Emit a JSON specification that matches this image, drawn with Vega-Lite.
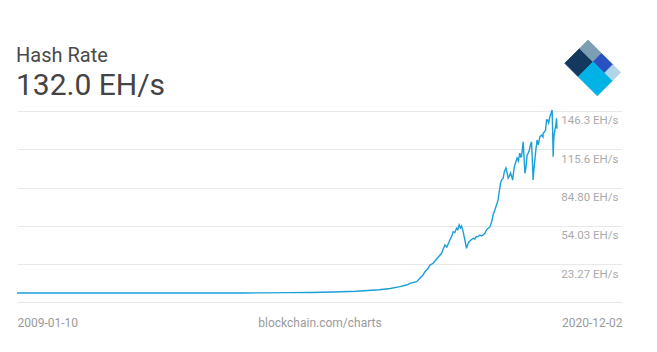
{
  "$schema": "https://vega.github.io/schema/vega-lite/v6.json",
  "width": 605,
  "height": 267,
  "autosize": {"type": "none"},
  "padding": {"left": 17, "top": 35, "right": 35, "bottom": 50},
  "background": "white",
  "config": {"view": {"stroke": null}, "font": "Roboto"},
  "title": {
    "text": "Hash Rate",
    "subtitle": "132.0 EH/s",
    "anchor": "start",
    "frame": "group",
    "font": "Roboto",
    "fontSize": 20,
    "fontWeight": "normal",
    "color": "#4a4a4a",
    "subtitleFont": "Roboto",
    "subtitleFontSize": 30,
    "subtitleColor": "#444444",
    "subtitlePadding": 5,
    "offset": -66,
    "dx": -1
  },
  "layer": [
    {
      "data": {
        "values": [
          {"date": "2009-01-10", "value": 0},
          {"date": "2010-01-01", "value": 0},
          {"date": "2011-01-01", "value": 0.0001},
          {"date": "2012-01-01", "value": 0.00001},
          {"date": "2013-01-01", "value": 0.00002},
          {"date": "2013-07-01", "value": 0.0003},
          {"date": "2014-01-01", "value": 0.01},
          {"date": "2014-07-01", "value": 0.12},
          {"date": "2015-01-01", "value": 0.3},
          {"date": "2015-07-01", "value": 0.4},
          {"date": "2016-01-01", "value": 0.8},
          {"date": "2016-07-01", "value": 1.4},
          {"date": "2017-01-01", "value": 2.6},
          {"date": "2017-04-01", "value": 3.6},
          {"date": "2017-06-17", "value": 5.1},
          {"date": "2017-08-10", "value": 6.4},
          {"date": "2017-09-06", "value": 7.8},
          {"date": "2017-10-30", "value": 9.1},
          {"date": "2017-11-25", "value": 11.8},
          {"date": "2017-12-21", "value": 14.5},
          {"date": "2018-01-05", "value": 17.1},
          {"date": "2018-01-31", "value": 19.9},
          {"date": "2018-02-14", "value": 22.5},
          {"date": "2018-03-12", "value": 23.9},
          {"date": "2018-03-26", "value": 25.7},
          {"date": "2018-04-21", "value": 28.7},
          {"date": "2018-05-18", "value": 31.9},
          {"date": "2018-05-29", "value": 34.6},
          {"date": "2018-06-14", "value": 38.6},
          {"date": "2018-06-30", "value": 37.0},
          {"date": "2018-07-24", "value": 42.6},
          {"date": "2018-08-09", "value": 45.8},
          {"date": "2018-08-20", "value": 49.3},
          {"date": "2018-09-02", "value": 48.6},
          {"date": "2018-09-16", "value": 52.0},
          {"date": "2018-09-26", "value": 51.0},
          {"date": "2018-10-07", "value": 54.7},
          {"date": "2018-10-17", "value": 52.3},
          {"date": "2018-10-26", "value": 53.9},
          {"date": "2018-11-08", "value": 49.3},
          {"date": "2018-11-22", "value": 42.6},
          {"date": "2018-12-05", "value": 35.9},
          {"date": "2018-12-16", "value": 39.4},
          {"date": "2018-12-26", "value": 41.2},
          {"date": "2019-01-10", "value": 42.6},
          {"date": "2019-01-28", "value": 44.0},
          {"date": "2019-02-10", "value": 43.4},
          {"date": "2019-02-22", "value": 45.4},
          {"date": "2019-03-09", "value": 45.3},
          {"date": "2019-03-22", "value": 46.6},
          {"date": "2019-04-07", "value": 45.8},
          {"date": "2019-05-02", "value": 48.0},
          {"date": "2019-05-14", "value": 50.6},
          {"date": "2019-05-28", "value": 52.0},
          {"date": "2019-06-11", "value": 53.1},
          {"date": "2019-06-17", "value": 54.7},
          {"date": "2019-06-27", "value": 57.9},
          {"date": "2019-07-07", "value": 62.7},
          {"date": "2019-07-21", "value": 66.7},
          {"date": "2019-07-29", "value": 69.1},
          {"date": "2019-08-08", "value": 72.1},
          {"date": "2019-08-16", "value": 74.8},
          {"date": "2019-08-25", "value": 81.2},
          {"date": "2019-09-05", "value": 88.2},
          {"date": "2019-09-13", "value": 90.8},
          {"date": "2019-09-26", "value": 92.2},
          {"date": "2019-10-05", "value": 97.3},
          {"date": "2019-10-18", "value": 100.5},
          {"date": "2019-10-26", "value": 97.3},
          {"date": "2019-11-05", "value": 92.4},
          {"date": "2019-11-15", "value": 94.1},
          {"date": "2019-11-24", "value": 96.5},
          {"date": "2019-12-05", "value": 93.2},
          {"date": "2019-12-11", "value": 90.8},
          {"date": "2019-12-21", "value": 98.9},
          {"date": "2019-12-29", "value": 102.9},
          {"date": "2020-01-06", "value": 105.3},
          {"date": "2020-01-16", "value": 108.5},
          {"date": "2020-01-26", "value": 106.1},
          {"date": "2020-02-07", "value": 112.5},
          {"date": "2020-02-15", "value": 109.3},
          {"date": "2020-02-21", "value": 109.6},
          {"date": "2020-02-27", "value": 115.0},
          {"date": "2020-03-05", "value": 121.6},
          {"date": "2020-03-11", "value": 110.9},
          {"date": "2020-03-19", "value": 96.2},
          {"date": "2020-03-27", "value": 100.5},
          {"date": "2020-04-06", "value": 110.9},
          {"date": "2020-04-14", "value": 112.3},
          {"date": "2020-04-24", "value": 115.0},
          {"date": "2020-05-02", "value": 119.0},
          {"date": "2020-05-11", "value": 121.6},
          {"date": "2020-05-18", "value": 106.9},
          {"date": "2020-05-24", "value": 90.8},
          {"date": "2020-05-30", "value": 98.9},
          {"date": "2020-06-07", "value": 106.9},
          {"date": "2020-06-15", "value": 115.0},
          {"date": "2020-06-25", "value": 123.0},
          {"date": "2020-07-05", "value": 119.0},
          {"date": "2020-07-17", "value": 125.6},
          {"date": "2020-07-31", "value": 127.0},
          {"date": "2020-08-11", "value": 125.4},
          {"date": "2020-08-13", "value": 128.4},
          {"date": "2020-08-22", "value": 129.4},
          {"date": "2020-09-01", "value": 131.0},
          {"date": "2020-09-09", "value": 139.1},
          {"date": "2020-09-17", "value": 139.1},
          {"date": "2020-09-26", "value": 136.7},
          {"date": "2020-10-06", "value": 141.7},
          {"date": "2020-10-14", "value": 143.9},
          {"date": "2020-10-19", "value": 145.7},
          {"date": "2020-10-24", "value": 147.1},
          {"date": "2020-10-28", "value": 131.0},
          {"date": "2020-11-01", "value": 109.6},
          {"date": "2020-11-07", "value": 125.6},
          {"date": "2020-11-15", "value": 131.0},
          {"date": "2020-11-23", "value": 135.0},
          {"date": "2020-11-28", "value": 140.4},
          {"date": "2020-12-02", "value": 132.0}
        ]
      },
      "mark": {"type": "line", "color": "#1a9fd9", "strokeWidth": 1.4},
      "encoding": {
        "x": {
          "field": "date",
          "type": "temporal",
          "scale": {"domain": [{"year": 2009, "month": 1, "date": 10}, {"year": 2022, "month": 5, "date": 9}]},
          "axis": {
            "title": null,
            "values": [{"year": 2009, "month": 1, "date": 10}, {"year": 2015, "month": 9, "date": 9, "hours": 12}, {"year": 2022, "month": 5, "date": 9}],
            "labelExpr": "year(datum.value) < 2012 ? '2009-01-10' : (year(datum.value) < 2020 ? 'blockchain.com/charts' : '2020-12-02')",
            "labelFlush": true,
            "labelOverlap": false,
            "grid": false,
            "ticks": false,
            "tickSize": 0,
            "domain": true,
            "domainColor": "#e6e6e6",
            "domainWidth": 1,
            "labelPadding": 15,
            "labelFont": "Roboto",
            "labelFontSize": 12,
            "labelColor": "#9a9a9a"
          }
        },
        "y": {
          "field": "value",
          "type": "quantitative",
          "scale": {"domain": [-7.235, 207.39], "nice": false, "zero": false},
          "axis": {
            "title": null,
            "orient": "right",
            "values": [23.27, 54.03, 84.8, 115.6, 146.3],
            "labelExpr": "(datum.value >= 100 ? format(datum.value, '.1f') : format(datum.value, '.2f')) + ' EH/s'",
            "grid": true,
            "gridColor": "#e8e8e8",
            "gridWidth": 1,
            "domain": false,
            "ticks": false,
            "tickSize": 0,
            "labelPadding": -4,
            "labelAlign": "right",
            "labelBaseline": "middle",
            "labelOffset": 10,
            "labelFont": "Roboto",
            "labelFontSize": 11.5,
            "labelColor": "#aaaaaa"
          }
        }
      }
    },
    {
      "data": {
        "values": [
          {"date": "2021-09-16", "value": 180.87, "col": "#13395f", "path": "M-0.933,-0.157L-0.486,0.291L0.009,-0.204L-0.438,-0.652Z"},
          {"date": "2021-09-16", "value": 180.87, "col": "#7b9eb3", "path": "M-0.438,-0.652L0.009,-0.204L0.292,-0.487L-0.156,-0.934Z"},
          {"date": "2021-09-16", "value": 180.87, "col": "#2b51c0", "path": "M0.009,-0.204L0.387,0.173L0.669,-0.11L0.292,-0.487Z"},
          {"date": "2021-09-16", "value": 180.87, "col": "#b0d5e8", "path": "M0.387,0.173L0.646,0.433L0.929,0.15L0.669,-0.11Z"},
          {"date": "2021-09-16", "value": 180.87, "col": "#00b2e5", "path": "M-0.486,0.291L0.151,0.928L0.646,0.433L0.009,-0.204Z"}
        ]
      },
      "mark": {"type": "point", "filled": true, "opacity": 1, "strokeWidth": 0.8, "strokeJoin": "round"},
      "encoding": {
        "x": {"field": "date", "type": "temporal"},
        "y": {"field": "value", "type": "quantitative"},
        "shape": {"field": "path", "type": "nominal", "scale": null},
        "color": {"field": "col", "type": "nominal", "scale": null},
        "stroke": {"field": "col", "type": "nominal", "scale": null},
        "size": {"value": 3600}
      }
    }
  ]
}
